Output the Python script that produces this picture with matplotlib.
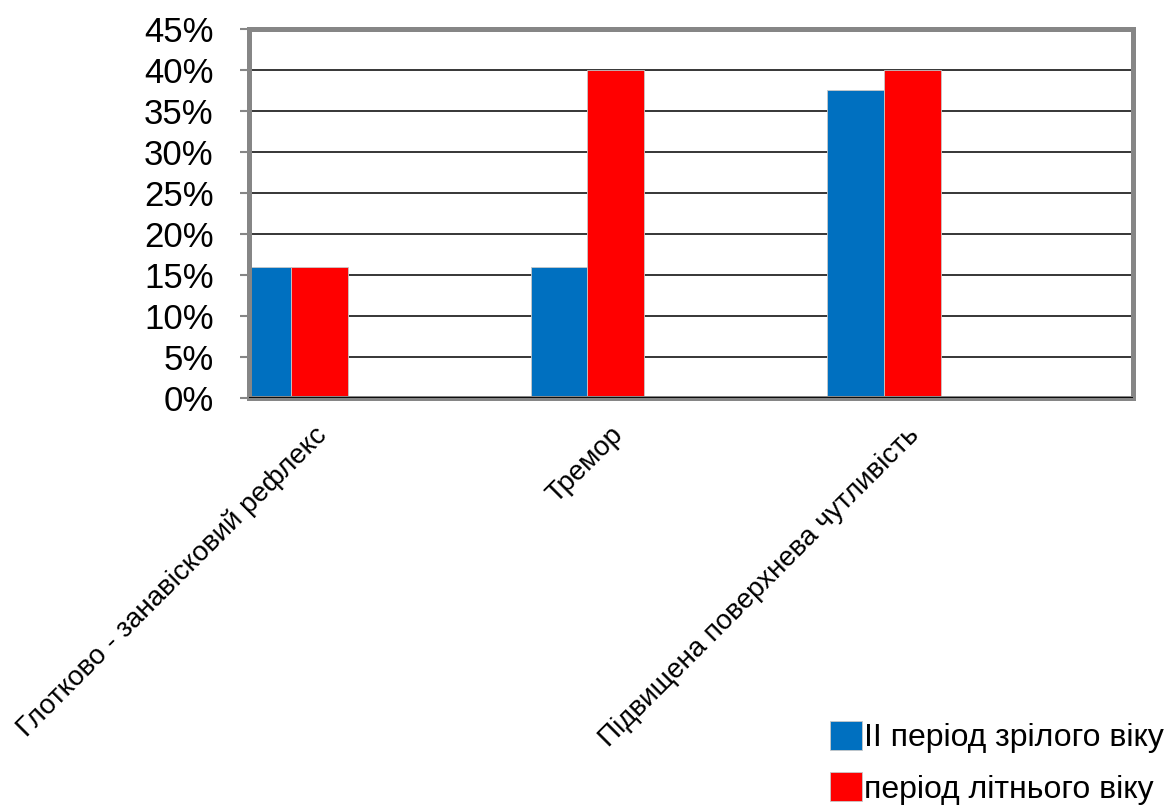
import numpy as np
import matplotlib
matplotlib.use("Agg")
import matplotlib.pyplot as plt
import matplotlib.transforms as mtransforms
from matplotlib.ticker import PercentFormatter

plt.rcParams['font.family'] = ['Liberation Sans', 'DejaVu Sans']

# data
categories = ['Глотково - занавісковий рефлекс', 'Тремор', 'Підвищена поверхнева чутливість']
series_names = ['II період зрілого віку', 'період літнього віку']
mature = [0.16, 0.16, 0.375]
elderly = [0.16, 0.40, 0.40]
y_ticks = [0, 0.05, 0.10, 0.15, 0.20, 0.25, 0.30, 0.35, 0.40, 0.45]

blue = '#0070C0'
red = '#FF0000'
frame_grey = '#868686'

fig = plt.figure(figsize=(11.64, 8.05), dpi=100)
ax = fig.add_axes([249 / 1164, 1 - 398 / 805, (1133 - 249) / 1164, (398 - 29) / 805])

x = np.arange(len(categories))
w = 0.192
ax.bar(x - w / 2, mature, w, color=blue, edgecolor='#c8c8c8', linewidth=0.6, zorder=2,
       label=series_names[0])
ax.bar(x + w / 2, elderly, w, color=red, edgecolor='#c8c8c8', linewidth=0.6, zorder=2,
       label=series_names[1])

ax.set_xlim(-0.1417, 2.84)
ax.set_ylim(0, 0.45)
ax.set_yticks(y_ticks)
ax.yaxis.set_major_formatter(PercentFormatter(1.0, decimals=0))
ax.tick_params(axis='y', labelsize=25, length=6.5, width=1.5, color=frame_grey, pad=19)
ax.set_xticks([])

# horizontal grid lines and zero line
for t in y_ticks[1:-1]:
    ax.axhline(t, color='black', lw=1.1, zorder=1)
ax.axhline(0, color='black', lw=1.3, zorder=3)

for s in ax.spines.values():
    s.set_color(frame_grey)
    s.set_linewidth(3.6)

# rotated category labels
trans = mtransforms.blended_transform_factory(ax.transData, ax.transAxes)
for xi, name in zip(x, categories):
    ax.text(xi + 0.138, -0.065, name, transform=trans, rotation=45,
            ha='right', va='top', fontsize=20)

fig.legend(loc='upper left', bbox_to_anchor=(830 / 1164, 1 - 721 / 805),
           fontsize=23, frameon=False, handlelength=1.0, handleheight=1.0,
           handletextpad=0.05, labelspacing=0.6, borderpad=0, borderaxespad=0)

fig.savefig('out.png', dpi=100)
